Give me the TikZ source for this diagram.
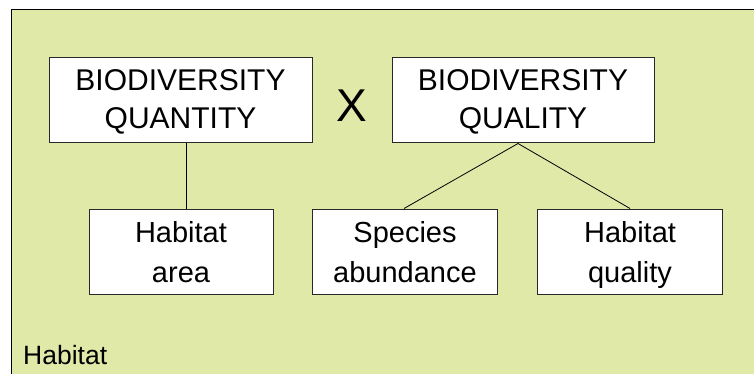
\documentclass[tikz,border=0pt]{standalone}
\usepackage{fontspec}
\setmainfont{Liberation Sans}
\definecolor{bggreen}{RGB}{225,233,169}
\definecolor{boxline}{RGB}{40,40,40}
\newcommand\topst{\rule[-9pt]{0pt}{37pt}}
\newcommand\lowst{\rule[-9pt]{0pt}{39pt}}
\begin{document}
\begin{tikzpicture}[x=1pt,y=-1pt,
  topbox/.style={draw=boxline, line width=1pt, fill=white, align=center, inner sep=0pt,
    minimum height=85pt, font=\fontsize{30}{34}\selectfont},
  lowbox/.style={draw=boxline, line width=1pt, fill=white, align=center, inner sep=0pt,
    minimum width=185pt, minimum height=85pt, font=\fontsize{29}{36}\selectfont},
  link/.style={draw=black, line width=0.8pt}]
\useasboundingbox (0,0) rectangle (754,374);
\fill[white] (0,0) rectangle (754,374);
\fill[bggreen] (11,10) rectangle (760,380);
\draw[line width=1pt] (11,380) -- (11,10) -- (760,10);
\node[topbox, minimum width=263pt] (qt) at (180.5,100.5) {BIODIVERSITY\topst\\QUANTITY\topst};
\node[topbox, minimum width=262pt] (ql) at (523,100.5) {BIODIVERSITY\topst\\QUALITY\topst};
\node[font=\fontsize{46}{46}\selectfont, inner sep=0pt] (x) at (352,106) {X};
\node[lowbox, minimum width=184pt] (ha) at (181,251.5) {Habitat\lowst\\area\lowst};
\node[lowbox] (sa) at (405,251.5) {Species\lowst\\abundance\lowst};
\node[lowbox] (hq) at (630,251.5) {Habitat\lowst\\quality\lowst};
\node[anchor=base west, inner sep=0pt, font=\fontsize{26.5}{26.5}\selectfont] (hab) at (23,364) {Habitat};
\draw[link] ([xshift=5pt]ha.north) -- ([xshift=5pt]ha.north |- qt.south);
\draw[link] ([xshift=-5pt]ql.south) -- ([xshift=-1pt]sa.north);
\draw[link] ([xshift=-5pt]ql.south) -- (hq.north);
\end{tikzpicture}
\end{document}
